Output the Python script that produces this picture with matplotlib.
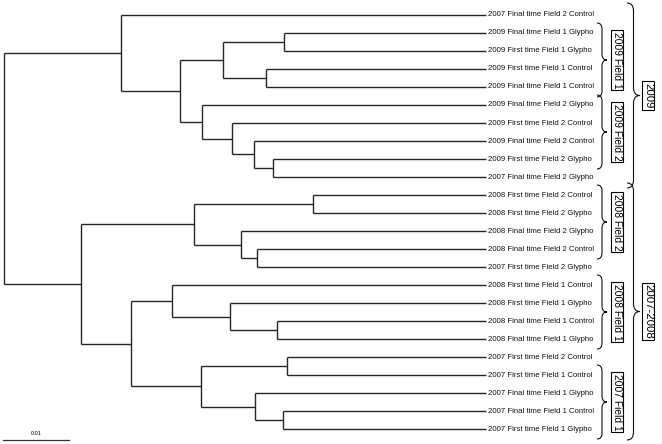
import matplotlib
matplotlib.use("Agg")
import matplotlib.pyplot as plt
from matplotlib.path import Path
from matplotlib.patches import PathPatch

plt.rcParams['font.family'] = ['Liberation Sans', 'DejaVu Sans']

# ---------------- data ----------------
leaves = [
    "2007 Final time Field 2 Control",
    "2009 Final time Field 1 Glypho",
    "2009 First time Field 1 Glypho",
    "2009 First time Field 1 Control",
    "2009 Final time Field 1 Control",
    "2009 Final time Field 2 Glypho",
    "2009 First time Field 2 Control",
    "2009 Final time Field 2 Control",
    "2009 First time Field 2 Glypho",
    "2007 Final time Field 2 Glypho",
    "2008 First time Field 2 Control",
    "2008 First time Field 2 Glypho",
    "2008 Final time Field 2 Glypho",
    "2008 Final time Field 2 Control",
    "2007 First time Field 2 Glypho",
    "2008 First time Field 1 Control",
    "2008 First time Field 1 Glypho",
    "2008 Final time Field 1 Control",
    "2008 Final time Field 1 Glypho",
    "2007 First time Field 2 Control",
    "2007 First time Field 1 Control",
    "2007 Final time Field 1 Glypho",
    "2007 Final time Field 1 Control",
    "2007 First time Field 1 Glypho",
]
leaf_depth = 0.0731

# internal nodes: name, children (int = leaf index), depth from root
node_names = ["root", "A", "B", "F1", "n12", "n34", "F2", "n6", "n7", "n89",
              "C", "D", "n1011", "n12b", "n1314", "E", "G", "n16", "n1718",
              "H", "n1920", "n21", "n2223"]
node_children = [("A", "C"), (0, "B"), ("F1", "F2"), ("n12", "n34"), (1, 2), (3, 4),
                 (5, "n6"), (6, "n7"), (7, "n89"), (8, 9),
                 ("D", "E"), ("n1011", "n12b"), (10, 11), (12, "n1314"), (13, 14),
                 ("G", "H"), (15, "n16"), (16, "n1718"), (17, 18),
                 ("n1920", "n21"), (19, 20), (21, "n2223"), (22, 23)]
node_depth = [0.0, 0.0178, 0.0267, 0.0333, 0.0425, 0.0398, 0.0301, 0.0346, 0.0380, 0.0408,
              0.0117, 0.0289, 0.0469, 0.0360, 0.0384, 0.0193, 0.0255, 0.0343, 0.0414,
              0.0299, 0.0430, 0.0381, 0.0423]

groups = ["2009 Field 1", "2009 Field 2", "2008 Field 2", "2008 Field 1", "2007 Field 1"]
group_span = [(1, 4), (5, 8), (10, 13), (15, 18), (20, 23)]
supergroups = ["2009", "2007-2008"]
supergroup_span = [(0, 9), (10, 23)]
scale_value = 0.01

# ---------------- layout ----------------
W, H = 662, 444
X0, XS = 3.5, 6600.0      # px = X0 + d*XS
Y0, YS = 15.0, 18.0       # px = Y0 + i*YS

fig = plt.figure(figsize=(W / 100, H / 100), dpi=100)
ax = fig.add_axes([0, 0, 1, 1])
ax.set_xlim(-X0 / XS, (W - X0) / XS)
ax.set_ylim((H - Y0) / YS, -Y0 / YS)
ax.axis('off')

def px2d(px, py):
    return (px - X0) / XS, (py - Y0) / YS

lc = '#262626'
lw = 1.0
info = {n: (c, d) for n, c, d in zip(node_names, node_children, node_depth)}

def draw(node):
    if isinstance(node, int):
        return float(node), leaf_depth
    (c1, c2), d = info[node]
    y1, d1 = draw(c1)
    y2, d2 = draw(c2)
    ax.plot([d, d], [y1, y2], color=lc, lw=lw, solid_capstyle='butt')
    ax.plot([d, d1], [y1, y1], color=lc, lw=lw, solid_capstyle='butt')
    ax.plot([d, d2], [y2, y2], color=lc, lw=lw, solid_capstyle='butt')
    return (y1 + y2) / 2, d

draw("root")

for i, name in enumerate(leaves):
    ax.text(leaf_depth + 2 / XS, i, name, fontsize=5.6, va='center', ha='left', color='#111111')

def brace(x0, y0, y1, w, r):
    ym = (y0 + y1) / 2
    xm = x0 + w / 2
    pts = [(x0, y0), (xm, y0), (xm, y0 + r),
           (xm, ym - r), (xm, ym), (x0 + w, ym),
           (xm, ym), (xm, ym + r),
           (xm, y1 - r), (xm, y1), (x0, y1)]
    codes = [Path.MOVETO, Path.CURVE3, Path.CURVE3,
             Path.LINETO, Path.CURVE3, Path.CURVE3,
             Path.CURVE3, Path.CURVE3,
             Path.LINETO, Path.CURVE3, Path.CURVE3]
    dpts = [px2d(x, y) for x, y in pts]
    ax.add_patch(PathPatch(Path(dpts, codes), fill=False, ec='#111111', lw=0.8))
    return x0 + w, ym

box = dict(boxstyle='square,pad=0.12', fc='white', ec='black', lw=0.8)

for name, (a, b) in zip(groups, group_span):
    ytop = Y0 + a * YS - 10
    ybot = Y0 + b * YS + 10
    brace(597, ytop, ybot, 10, 6)
    ym = (ytop + ybot) / 2
    ax.text(*px2d(617, ym), name, rotation=-90, fontsize=7.4, ha='center', va='center',
            bbox=box, rotation_mode='anchor')

for name, (a, b) in zip(supergroups, supergroup_span):
    ytop = Y0 + a * YS - 12
    ybot = Y0 + b * YS + 11
    brace(627, ytop, ybot, 13, 8)
    ym = (ytop + ybot) / 2
    ax.text(*px2d(648, ym), name, rotation=-90, fontsize=8.2, ha='center', va='center',
            bbox=box, rotation_mode='anchor')

# scale bar
sy = (440 - Y0) / YS
ax.plot([-0.5 / XS, scale_value - 0.5 / XS], [sy, sy], color='#333333', lw=0.9)
ax.text(scale_value / 2, (433 - Y0) / YS, f"{scale_value:g}", fontsize=4, ha='center', va='center')

fig.savefig("out.png", dpi=100, facecolor='white')
